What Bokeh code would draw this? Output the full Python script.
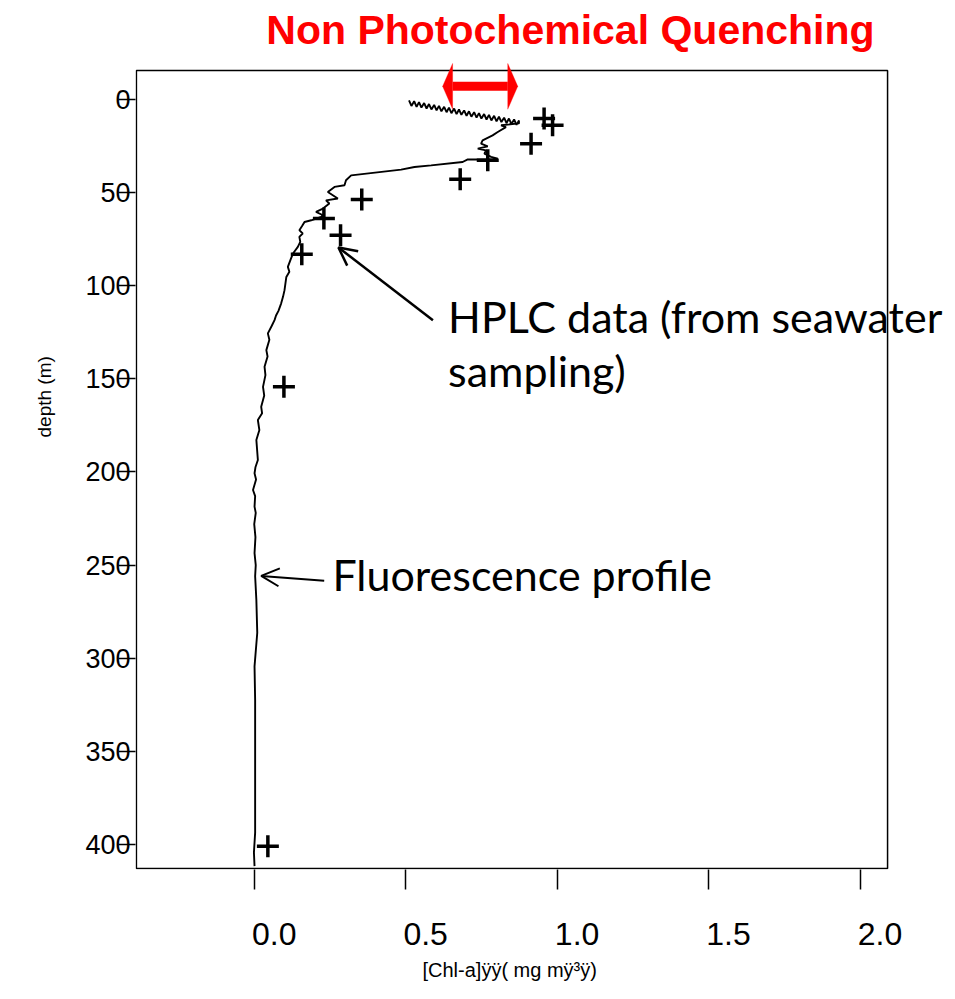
from bokeh.plotting import figure
from bokeh.models import (Range1d, FixedTicker, Label, Arrow, OpenHead, PolyAnnotation,
                          LinearAxis, Title, BoxAnnotation)
from bokeh.embed import file_html
from bokeh.resources import INLINE

# ---------------- data ----------------
# Fluorescence-derived chlorophyll profile (chl in mg m-3, depth in m)
fluo_chl = [0.511, 0.519, 0.528, 0.536, 0.544, 0.552, 0.561, 0.569, 0.577, 0.585,
            0.594, 0.602, 0.610, 0.618, 0.627, 0.635, 0.643, 0.651, 0.660, 0.668,
            0.676, 0.684, 0.693, 0.701, 0.709, 0.717, 0.726, 0.734, 0.742, 0.750,
            0.759, 0.767, 0.775, 0.783, 0.792, 0.800, 0.808, 0.816, 0.825, 0.833,
            0.841, 0.849, 0.858, 0.866, 0.874, 0.874,
            0.815, 0.831, 0.804, 0.787, 0.754, 0.749, 0.771, 0.738, 0.765, 0.760,
            0.782, 0.804, 0.771, 0.705, 0.688, 0.584, 0.529, 0.485, 0.320, 0.303,
            0.298, 0.265, 0.243, 0.276, 0.237, 0.248, 0.227, 0.204, 0.227, 0.221,
            0.188, 0.166, 0.158, 0.149, 0.160, 0.149, 0.152, 0.144, 0.128, 0.120,
            0.111, 0.116, 0.106, 0.100, 0.095, 0.089, 0.080, 0.072, 0.067, 0.058,
            0.045, 0.050, 0.040, 0.044, 0.034, 0.037, 0.029, 0.033, 0.023, 0.026,
            0.012, 0.017, 0.007, 0.012, 0.004, 0.001, 0.006, -0.004, 0.003, 0.001,
            0.005, 0.000, 0.004, 0.001, 0.005, 0.003, 0.007, 0.010, 0.001, 0.003,
            0.003, 0.003, -0.001, 0.001]
fluo_depth = [0.5, 3.5, 1.0, 4.0, 1.5, 4.4, 2.0, 4.9, 2.5, 5.4,
              3.0, 5.9, 3.5, 6.4, 4.0, 6.9, 4.4, 7.4, 4.9, 7.9,
              5.4, 8.3, 5.9, 8.8, 6.4, 9.3, 6.9, 9.8, 7.4, 10.3,
              7.9, 10.8, 8.3, 11.3, 8.8, 11.8, 9.3, 12.2, 9.8, 12.7,
              10.3, 13.2, 10.8, 13.7, 11.3, 12.9,
              13.9, 14.9, 17.5, 19.3, 22.0, 23.8, 25.2, 26.4, 27.4, 29.1,
              30.9, 31.8, 32.3, 32.2, 33.6, 35.4, 36.3, 37.7, 40.8, 43.4,
              46.1, 47.0, 49.7, 53.2, 54.2, 55.9, 58.6, 60.4, 62.2, 63.1,
              64.9, 65.8, 68.0, 70.2, 72.0, 73.8, 76.5, 79.2, 82.7, 86.0,
              89.9, 92.5, 95.3, 102.4, 106.0, 109.5, 113.5, 116.0, 118.5, 121.5,
              125.6, 129.0, 134.6, 138.0, 143.5, 148.0, 154.3, 159.0, 165.0, 168.5,
              172.1, 177.5, 182.8, 193.6, 197.5, 200.7, 204.0, 209.7, 213.0, 218.6,
              222.0, 228.0, 235.0, 243.6, 250.0, 256.0, 268.6, 286.3, 304.4, 322.3,
              358.0, 393.6, 404.3, 411.6]

# HPLC samples
hplc_chl = [0.957, 0.985, 0.914, 0.771, 0.680, 0.355, 0.230, 0.285, 0.157, 0.098, 0.045]
hplc_depth = [10.3, 13.9, 23.8, 32.7, 42.9, 53.8, 64.0, 72.9, 83.1, 154.3, 400.9]

x_ticks = [0.0, 0.5, 1.0, 1.5, 2.0]
x_tick_labels = ["0.0", "0.5", "1.0", "1.5", "2.0"]
y_ticks = [0, 50, 100, 150, 200, 250, 300, 350, 400]

x_title = "[Chl-a]ÿÿ( mg mÿ³ÿ)"
y_title = "depth (m)"
main_title = "Non Photochemical Quenching"

# visible plotting box (data limits of the drawn frame)
box_x0, box_x1 = -0.389, 2.091
box_top, box_bottom = -15.55, 412.9

# ---------------- figure ----------------
# the drawing area reaches the right and top edges so that texts may cross the box
xr0, xr1 = -0.392, 2.3153
yr_bottom, yr_top = 413.4, -53.08
p = figure(width=955, height=999,
           x_range=Range1d(xr0, xr1), y_range=Range1d(yr_bottom, yr_top),
           output_backend="svg", toolbar_location=None,
           min_border_left=135, min_border_right=0,
           min_border_top=0, min_border_bottom=130)
p.background_fill_color = "white"
p.border_fill_color = "white"
p.outline_line_color = None
p.xgrid.visible = False
p.ygrid.visible = False

p.add_layout(BoxAnnotation(left=box_x0, right=box_x1, top=box_top, bottom=box_bottom,
                           fill_color=None, fill_alpha=0, line_color="black",
                           line_width=1.5, line_alpha=1.0))

# x axis: ticks on the main axis, labels (set just right of each tick) on a second axis
p.xaxis.ticker = FixedTicker(ticks=x_ticks)
p.xaxis.axis_line_color = None
p.xaxis.minor_tick_line_color = None
p.xaxis.major_tick_out = 20
p.xaxis.major_tick_in = 0
p.xaxis.major_tick_line_width = 1.5
p.xaxis.major_label_text_color = None
p.xaxis.major_label_text_font_size = "1px"
p.xaxis.major_label_standoff = 0

label_shift = 0.066  # labels start at their tick, as in the original
p.extra_x_ranges = {"lab": Range1d(xr0 - label_shift, xr1 - label_shift)}
lab_axis = LinearAxis(x_range_name="lab", ticker=FixedTicker(ticks=x_ticks),
                      major_label_overrides={t: l for t, l in zip(x_ticks, x_tick_labels)},
                      major_tick_out=0, major_tick_in=0, minor_tick_out=0, minor_tick_in=0,
                      axis_line_color=None, major_tick_line_color=None,
                      minor_tick_line_color=None, major_label_standoff=33,
                      major_label_text_font="Liberation Sans",
                      major_label_text_font_size="32px", major_label_text_color="black")
p.add_layout(lab_axis, "below")

p.add_layout(Title(text=x_title, align="left", offset=287, standoff=19,
                   text_font="Liberation Sans", text_font_size="20px",
                   text_font_style="normal", text_color="black"), "below")

p.yaxis.ticker = FixedTicker(ticks=y_ticks)
p.yaxis.axis_line_color = None
p.yaxis.minor_tick_line_color = None
p.yaxis.major_tick_out = 17
p.yaxis.major_tick_in = 0
p.yaxis.major_tick_line_width = 1.5
p.yaxis.major_label_standoff = -12
p.yaxis.major_label_text_font = "Liberation Sans"
p.yaxis.major_label_text_font_size = "27px"
p.yaxis.major_label_text_color = "black"

p.add_layout(Title(text=y_title, align="left", offset=432, standoff=56,
                   text_font="Liberation Sans", text_font_size="19px",
                   text_font_style="normal", text_color="black"), "left")

# data
p.line(fluo_chl, fluo_depth, line_color="black", line_width=1.9)
p.scatter(hplc_chl, hplc_depth, marker="cross", size=22, line_color="black", line_width=3.5)

# ---------------- annotations ----------------
p.add_layout(Label(x=0.040, y=-37.0, text=main_title,
                   text_font="Liberation Sans", text_font_style="bold",
                   text_font_size="41px", text_color="red",
                   text_align="left", text_baseline="middle"))

# NPQ double arrow (red)
npq_left, npq_right, npq_y = 0.622, 0.870, -7.0
head_len, head_half = 0.033, 12.3
p.add_layout(Arrow(x_start=npq_left + head_len, y_start=npq_y,
                   x_end=npq_right - head_len, y_end=npq_y,
                   line_color="red", line_width=9, end=None, start=None))
p.add_layout(PolyAnnotation(xs=[npq_left, npq_left + head_len, npq_left + head_len],
                            ys=[npq_y, npq_y - head_half, npq_y + head_half],
                            fill_color="red", fill_alpha=1.0, line_color="red", line_width=1))
p.add_layout(PolyAnnotation(xs=[npq_right, npq_right - head_len, npq_right - head_len],
                            ys=[npq_y, npq_y - head_half, npq_y + head_half],
                            fill_color="red", fill_alpha=1.0, line_color="red", line_width=1))

# HPLC arrow + text
p.add_layout(Arrow(x_start=0.590, y_start=118.5, x_end=0.278, y_end=79.5,
                   line_color="black", line_width=2.5,
                   end=OpenHead(size=18, line_width=2.5, line_color="black")))
p.add_layout(Label(x=0.640, y=116.6, text="HPLC data (from seawater",
                   text_font="Lato", text_font_size="43px", text_color="black",
                   text_align="left", text_baseline="middle"))
p.add_layout(Label(x=0.640, y=145.8, text="sampling)",
                   text_font="Lato", text_font_size="43px", text_color="black",
                   text_align="left", text_baseline="middle"))

# Fluorescence arrow + text
p.add_layout(Arrow(x_start=0.231, y_start=258.4, x_end=0.023, y_end=255.8,
                   line_color="black", line_width=2.0,
                   end=OpenHead(size=18, line_width=2.0, line_color="black")))
p.add_layout(Label(x=0.258, y=255.2, text="Fluorescence profile",
                   text_font="Lato", text_font_size="43px", text_color="black",
                   text_align="left", text_baseline="middle"))

open("out.html", "w").write(file_html(p, INLINE))
